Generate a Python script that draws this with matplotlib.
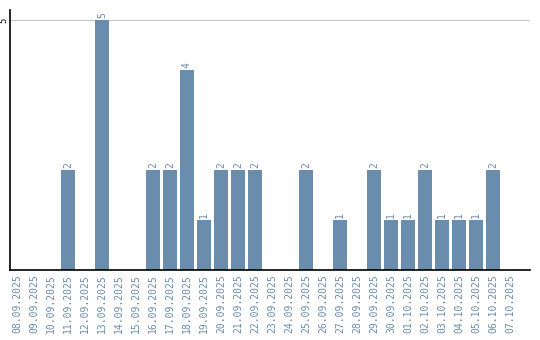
import matplotlib.pyplot as plt
import numpy as np

dates = ["08.09.2025", "09.09.2025", "10.09.2025", "11.09.2025", "12.09.2025",
         "13.09.2025", "14.09.2025", "15.09.2025", "16.09.2025", "17.09.2025",
         "18.09.2025", "19.09.2025", "20.09.2025", "21.09.2025", "22.09.2025",
         "23.09.2025", "24.09.2025", "25.09.2025", "26.09.2025", "27.09.2025",
         "28.09.2025", "29.09.2025", "30.09.2025", "01.10.2025", "02.10.2025",
         "03.10.2025", "04.10.2025", "05.10.2025", "06.10.2025", "07.10.2025"]
counts = [0, 0, 0, 2, 0, 5, 0, 0, 2, 2, 4, 1, 2, 2, 2, 0, 0, 2, 0, 1,
          0, 2, 1, 1, 2, 1, 1, 1, 2, 0]

bar_col = "#6a8cad"
txt_col = "#6a8cad"

fig = plt.figure(figsize=(5.4, 3.4), dpi=100)
ax = fig.add_axes([10 / 540, 70 / 340, 520 / 540, 260 / 340])

x = np.arange(len(dates))
bars = ax.bar(x, counts, width=0.82, color=bar_col, zorder=2)
for xi, v in zip(x, counts):
    if v > 0:
        ax.text(xi, v + 0.04, str(v), rotation=90, ha="center", va="bottom",
                fontsize=7, family="DejaVu Sans Mono", color=txt_col)

ax.set_xlim(-0.41, 30.18)
ax.set_ylim(0, 5.2)
ax.set_yticks([5])
ax.set_yticklabels(["5"], rotation=90, va="center", fontsize=6.5,
                   family="DejaVu Sans Mono", color="black")
ax.axhline(5, color="#cccccc", lw=1, zorder=1)
ax.set_xticks(x)
ax.set_xticklabels(dates, rotation=90, fontsize=7, family="DejaVu Sans Mono",
                   color=txt_col)
ax.tick_params(axis="x", length=0, pad=3)
ax.tick_params(axis="y", length=0, pad=1)
ax.spines["top"].set_visible(False)
ax.spines["right"].set_visible(False)
ax.spines["left"].set_color("black")
ax.spines["bottom"].set_color("black")
ax.spines["left"].set_linewidth(1.2)
ax.spines["bottom"].set_linewidth(1.2)

fig.savefig("out.png", dpi=100)
